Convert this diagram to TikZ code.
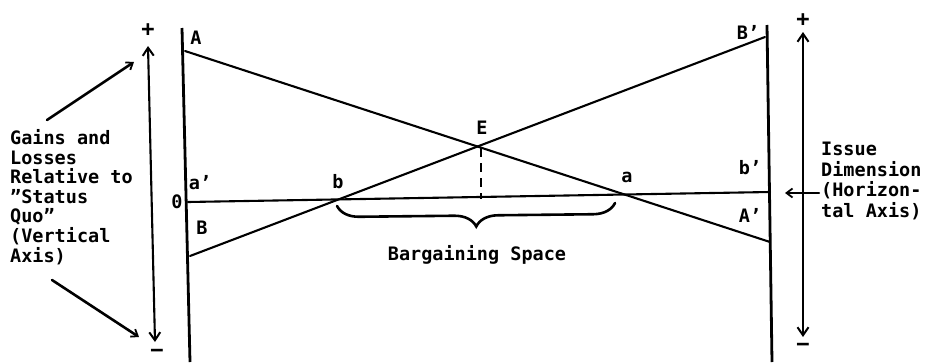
\documentclass[tikz,border=0pt]{standalone}
\usepackage{fontspec}
\setmainfont{DejaVu Sans Mono}
\usetikzlibrary{decorations.pathreplacing,arrows.meta}
\tikzset{
  thick line/.style={line width=2.1pt, line cap=round},
  axis line/.style={line width=2.8pt},
  lbl/.style={font=\fontsize{18.5}{20}\selectfont\bfseries, inner sep=0pt},
  txt/.style={font=\fontsize{18.5}{19.6}\selectfont\bfseries, align=left, inner sep=0pt},
  barb/.style={{Straight Barb[length=8pt,width=11pt,line width=2pt]}-{Straight Barb[length=8pt,width=11pt,line width=2pt]}},
  onebarb/.style={-{Straight Barb[length=6pt,width=9pt,line width=1.8pt]}}
}
\begin{document}
\begin{tikzpicture}[x=1pt,y=-1pt]
\useasboundingbox (0,0) rectangle (926,362);
% axes
\coordinate (Ltop) at (182,28);
\coordinate (Lbot) at (190,362);
\coordinate (Rtop) at (767,25);
\coordinate (Rbot) at (772,362);
\draw[axis line] (Ltop) -- (Lbot);
\draw[axis line] (Rtop) -- (Rbot);
% lines
\coordinate (Apt) at (185,51);
\coordinate (Appt) at (770,242);
\coordinate (Bpt) at (190,256);
\coordinate (Bppt) at (765,37);
\coordinate (Opt) at (188,202);
\coordinate (Hend) at (770,192);
\coordinate (Ept) at (481,148);
\coordinate (Efoot) at (481,199);
\coordinate (bpt) at (337,204);
\coordinate (apt) at (615,201);
\draw[thick line] (Apt) -- (Appt);
\draw[thick line] (Bpt) -- (Bppt);
\draw[thick line] (Opt) -- (Hend);
\draw[line width=2.8pt, dash pattern=on 9pt off 6pt] (Ept) -- (Efoot);
\draw[line width=2.6pt, line cap=round, decorate, decoration={brace, amplitude=22pt, raise=2pt}] (apt) -- (bpt);
% labels
\node[lbl] (A) at (196,38) {A};
\node[lbl] (Bp) at (748,32) {B'};
\node[lbl] (ap) at (200,183) {a'};
\node[lbl] (O) at (177,202) {0};
\node[lbl] (B) at (202,228) {B};
\node[lbl] (b) at (338,182) {b};
\node[lbl] (E) at (482,128) {E};
\node[lbl] (a) at (627,177) {a};
\node[lbl] (bp) at (750,168) {b'};
\node[lbl] (Ap) at (750,215) {A'};
\node[lbl] (bs) at (477,255) {Bargaining Space};
% vertical axis arrows
\node[lbl, font=\fontsize{22}{22}\selectfont\bfseries] (plusL) at (148,30) {+};
\node[lbl, font=\fontsize{22}{22}\selectfont\bfseries] (minusL) at (157,353) {−};
\node[lbl, font=\fontsize{22}{22}\selectfont\bfseries] (plusR) at (803,20) {+};
\node[lbl, font=\fontsize{22}{22}\selectfont\bfseries] (minusR) at (803,347) {−};
\coordinate (LaT) at (148,46);
\coordinate (LaB) at (155,342);
\coordinate (RaT) at (803,32);
\coordinate (RaB) at (803,337);
\draw[thick line, barb] (LaT) -- (LaB);
\draw[thick line, barb] (RaT) -- (RaB);
% left text
\node[txt, anchor=west] (gains) at (10,197) {Gains and\\Losses\\Relative to\\"Status\\Quo"\\(Vertical\\Axis)};
\coordinate (g1s) at (47,120);
\coordinate (g1e) at (134,62);
\coordinate (g2s) at (52,280);
\coordinate (g2e) at (139,337);
\draw[line width=2.6pt, line cap=round, onebarb] (g1s) -- (g1e);
\draw[line width=2.6pt, line cap=round, onebarb] (g2s) -- (g2e);
% right text
\node[txt, anchor=west, font=\fontsize{18.5}{20.5}\selectfont\bfseries] (issue) at (821,181) {Issue\\Dimension\\(Horizon-\\tal Axis)};
\coordinate (iS) at (819,193);
\coordinate (iE) at (785,193);
\draw[thick line, onebarb] (iS) -- (iE);
\end{tikzpicture}
\end{document}
